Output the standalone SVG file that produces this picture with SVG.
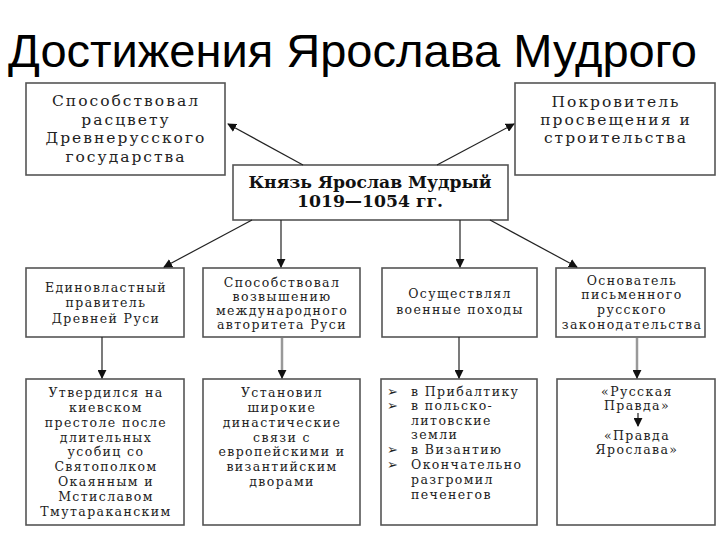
<svg xmlns="http://www.w3.org/2000/svg" width="720" height="540" viewBox="0 0 720 540">
<defs>
<marker id="ah" viewBox="0 0 10 10" refX="9" refY="5" markerWidth="9" markerHeight="9" markerUnits="userSpaceOnUse" orient="auto">
<path d="M0,0 L10,5 L0,10 z" fill="#111"/>
</marker>
</defs>
<style>
.box{fill:#fff;stroke:#555;stroke-width:1.6}
.t{font-family:"DejaVu Serif","Liberation Serif",serif;font-size:12.5px;letter-spacing:1.4px;fill:#222;text-anchor:middle}
.tl{font-family:"DejaVu Serif","Liberation Serif",serif;font-size:12.5px;letter-spacing:1.4px;fill:#222}
.big{font-size:15.5px;letter-spacing:2px}
.b{font-family:"DejaVu Serif","Liberation Serif",serif;font-weight:bold;font-size:16px;fill:#111;text-anchor:middle}
.c{stroke:#222;stroke-width:1.2;fill:none;marker-end:url(#ah)}
.g{stroke:#999;stroke-width:2.5;fill:none}
</style>
<rect width="720" height="540" fill="#fff"/>
<text x="8" y="67" font-family="'Liberation Sans','DejaVu Sans',sans-serif" font-size="46" fill="#000" textLength="689" lengthAdjust="spacingAndGlyphs">Достижения Ярослава Мудрого</text>

<g id="n-top-left">
<rect class="box" x="26" y="83" width="199" height="92"/>
<text class="t big" x="126" y="106">Способствовал</text>
<text class="t big" x="126" y="125">расцвету</text>
<text class="t big" x="126" y="143">Древнерусского</text>
<text class="t big" x="126" y="162">государства</text>
</g>
<g id="n-top-right">
<rect class="box" x="515" y="83" width="200" height="92"/>
<text class="t big" x="616" y="107">Покровитель</text>
<text class="t big" x="616" y="125">просвещения и</text>
<text class="t big" x="616" y="143">строительства</text>
</g>
<g id="n-center">
<rect class="box" x="233" y="165" width="275" height="55"/>
<text class="b" x="370" y="188" textLength="243" lengthAdjust="spacingAndGlyphs">Князь Ярослав Мудрый</text>
<text class="b" x="370" y="207" textLength="146" lengthAdjust="spacingAndGlyphs">1019—1054 гг.</text>
</g>

<g id="n-r2-1">
<rect class="box" x="26" y="268" width="158" height="69"/>
<text class="t" x="106" y="292">Единовластный</text>
<text class="t" x="106" y="307">правитель</text>
<text class="t" x="106" y="323">Древней Руси</text>
</g>
<g id="n-r2-2">
<rect class="box" x="203" y="268" width="157" height="69"/>
<text class="t" x="282" y="287">Способствовал</text>
<text class="t" x="282" y="301">возвышению</text>
<text class="t" x="282" y="315">международного</text>
<text class="t" x="282" y="329">авторитета Руси</text>
</g>
<g id="n-r2-3">
<rect class="box" x="382" y="268" width="155" height="69"/>
<text class="t" x="460" y="298">Осуществлял</text>
<text class="t" x="460" y="314">военные походы</text>
</g>
<g id="n-r2-4">
<rect class="box" x="556" y="268" width="149" height="69"/>
<text class="t" x="632" y="285">Основатель</text>
<text class="t" x="632" y="299">письменного</text>
<text class="t" x="632" y="314">русского</text>
<text class="t" x="632" y="329">законодательства</text>
</g>

<g id="n-r3-1">
<rect class="box" x="26" y="379" width="158" height="146"/>
<text class="t" x="106" y="397">Утвердился на</text>
<text class="t" x="106" y="412">киевском</text>
<text class="t" x="106" y="427">престоле после</text>
<text class="t" x="106" y="442">длительных</text>
<text class="t" x="106" y="456">усобиц со</text>
<text class="t" x="106" y="471">Святополком</text>
<text class="t" x="106" y="486">Окаянным и</text>
<text class="t" x="106" y="501">Мстиславом</text>
<text class="t" x="106" y="516">Тмутараканским</text>
</g>
<g id="n-r3-2">
<rect class="box" x="203" y="379" width="157" height="146"/>
<text class="t" x="282" y="397">Установил</text>
<text class="t" x="282" y="412">широкие</text>
<text class="t" x="282" y="427">династические</text>
<text class="t" x="282" y="442">связи с</text>
<text class="t" x="282" y="456">европейскими и</text>
<text class="t" x="282" y="471">византийским</text>
<text class="t" x="282" y="486">дворами</text>
</g>
<g id="n-r3-3">
<rect class="box" x="381" y="379" width="156" height="146"/>
<text class="tl" x="387" y="396">➢</text>
<text class="tl" x="411" y="396">в Прибалтику</text>
<text class="tl" x="387" y="410">➢</text>
<text class="tl" x="411" y="410">в польско-</text>
<text class="tl" x="411" y="425">литовские</text>
<text class="tl" x="411" y="439">земли</text>
<text class="tl" x="387" y="454">➢</text>
<text class="tl" x="411" y="454">в Византию</text>
<text class="tl" x="387" y="469">➢</text>
<text class="tl" x="411" y="469">Окончательно</text>
<text class="tl" x="411" y="484">разгромил</text>
<text class="tl" x="411" y="499">печенегов</text>
</g>
<g id="n-r3-4">
<rect class="box" x="557" y="379" width="158" height="146"/>
<text class="t" x="637" y="396">«Русская</text>
<text class="t" x="637" y="410">Правда»</text>
<text class="t" x="637" y="440">«Правда</text>
<text class="t" x="637" y="454">Ярослава»</text>
</g>

<g id="connectors">
<line class="c" x1="303" y1="165" x2="228" y2="124"/>
<line class="c" x1="437" y1="165" x2="514" y2="124"/>
<line class="c" x1="252" y1="220" x2="164" y2="267"/>
<line class="c" x1="281" y1="220" x2="281" y2="267"/>
<line class="c" x1="460" y1="220" x2="460" y2="267"/>
<line class="c" x1="490" y1="220" x2="577" y2="267"/>
<line class="c" x1="102" y1="337" x2="102" y2="378"/>
<line class="g" x1="282" y1="338" x2="282" y2="372"/>
<line class="c" x1="282" y1="370" x2="282" y2="378" style="stroke-width:1"/>
<line class="c" x1="459" y1="337" x2="459" y2="378"/>
<line class="g" x1="637" y1="338" x2="637" y2="372"/>
<line class="c" x1="637" y1="370" x2="637" y2="378" style="stroke-width:1"/>
<line class="c" x1="638" y1="413" x2="638" y2="426"/>
</g>
</svg>
